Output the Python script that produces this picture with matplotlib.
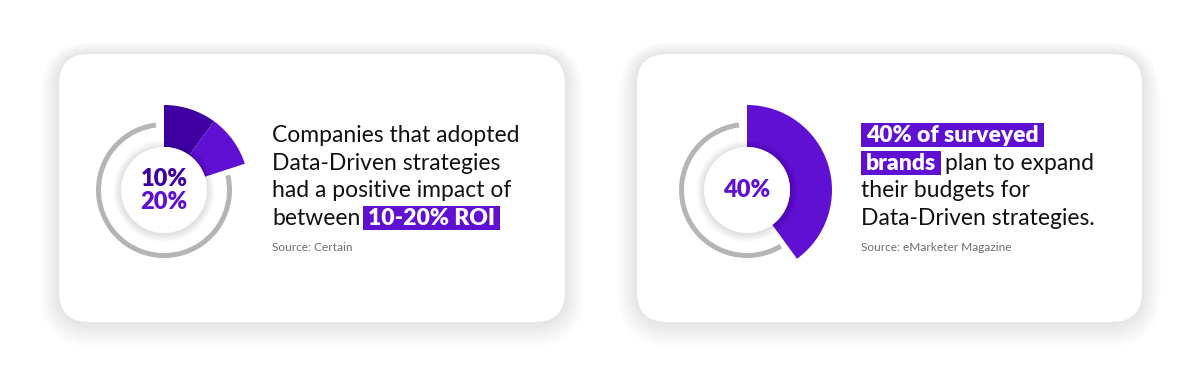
import matplotlib
matplotlib.use("Agg")
import matplotlib.pyplot as plt
from matplotlib.patches import FancyBboxPatch, Wedge, Circle, Rectangle

# chart values (percent)
card1_segments = [10, 10]
card1_labels = ["10%", "20%"]
card2_segments = [40]
card2_labels = ["40%"]

card1_lines = ["Companies that adopted", "Data-Driven strategies", "had a positive impact of"]
card1_last = ("between", "10-20% ROI")
card1_source = "Source: Certain"

card2_hl1 = "40% of surveyed"
card2_hl2 = ("brands", "plan to expand")
card2_lines = ["their budgets for", "Data-Driven strategies."]
card2_source = "Source: eMarketer Magazine"

DARK = "#3e00a3"
PURPLE = "#6010d2"
GRAY_RING = "#b5b5b5"
TEXT = "#111111"
SRC = "#6e6e6e"
FONT = "Lato"
FS = 16.5

W, H = 1200, 375
fig = plt.figure(figsize=(12, 3.75), dpi=100)
ax = fig.add_axes([0, 0, 1, 1])
ax.set_xlim(0, W)
ax.set_ylim(0, H)
ax.axis("off")
fig.patch.set_facecolor("white")


def py(y):
    # pixel row (top=0) -> axis y
    return H - y


def card(x0, x1, y0, y1):
    # soft shadow
    for i in range(26, 0, -1):
        s = FancyBboxPatch((x0 - i * 0.75, py(y1) - i * 1.0), (x1 - x0) + i * 1.5, (y1 - y0) + i * 1.5,
                           boxstyle="round,pad=0,rounding_size=%f" % (30 + i),
                           facecolor="#000000", edgecolor="none", alpha=0.0045, zorder=1)
        ax.add_patch(s)
    c = FancyBboxPatch((x0, py(y1)), x1 - x0, y1 - y0,
                       boxstyle="round,pad=0,rounding_size=30",
                       facecolor="white", edgecolor="none", zorder=2)
    ax.add_patch(c)


def donut(cx, cy, segments, colors, labels, label_colors):
    c = (cx, py(cy))
    end = sum(segments) * 3.6
    # gray track, clockwise from wedge end +5deg to -7deg
    ax.add_patch(Wedge(c, 68, 90 + 7, 90 - end - 5 + 360, width=5,
                       facecolor=GRAY_RING, edgecolor="none", zorder=3))
    start = 0
    for v, col in zip(segments, colors):
        a1, a2 = start, start + v * 3.6
        ax.add_patch(Wedge(c, 85, 90 - a2, 90 - a1, width=42,
                           facecolor=col, edgecolor="none", zorder=4))
        start = a2
    # inner circle with soft shadow
    for i in range(10, 0, -1):
        ax.add_patch(Circle((cx, py(cy) - 1), 43 + i * 0.8, facecolor="#000000",
                            edgecolor="none", alpha=0.012, zorder=5))
    ax.add_patch(Circle(c, 43, facecolor="white", edgecolor="none", zorder=6))
    n = len(labels)
    offs = [0] if n == 1 else [-11, 12]
    for lab, col, o in zip(labels, label_colors, offs):
        ax.text(cx, py(cy + o), lab, ha="center", va="center", fontsize=17,
                fontweight="heavy", color=col, family=FONT, zorder=7)


renderer = fig.canvas.get_renderer()


def width_of(t):
    return t.get_window_extent(renderer=renderer).width


def highlight(x, base, s):
    t = ax.text(x + 5, py(base), s, ha="left", va="baseline", fontsize=FS, fontweight="heavy",
                color="white", family=FONT, zorder=9)
    w = width_of(t)
    ax.add_patch(Rectangle((x, py(base) - 5), w + 10, 24, facecolor=PURPLE,
                           edgecolor="none", zorder=8))
    return x + w + 10


card(59, 565, 54, 322)
card(637, 1142, 54, 322)

donut(164, 190, card1_segments, [DARK, PURPLE], card1_labels, [DARK, PURPLE])
donut(747, 190, card2_segments, [PURPLE], card2_labels, [PURPLE])

# card 1 text
bases = [142, 170, 197, 225]
x1 = 272
for s, b in zip(card1_lines, bases):
    ax.text(x1, py(b), s, ha="left", va="baseline", fontsize=FS, color=TEXT, family=FONT, zorder=9)
t = ax.text(x1, py(bases[3]), card1_last[0], ha="left", va="baseline", fontsize=FS,
            color=TEXT, family=FONT, zorder=9)
highlight(x1 + width_of(t) + 3, bases[3], card1_last[1])
ax.text(x1, py(251), card1_source, ha="left", va="baseline", fontsize=8.6, color=SRC,
        family=FONT, zorder=9)

# card 2 text
x2 = 861
highlight(x2, bases[0], card2_hl1)
xe = highlight(x2, bases[1], card2_hl2[0])
ax.text(xe + 4, py(bases[1]), card2_hl2[1], ha="left", va="baseline", fontsize=FS,
        color=TEXT, family=FONT, zorder=9)
for s, b in zip(card2_lines, bases[2:]):
    ax.text(x2, py(b), s, ha="left", va="baseline", fontsize=FS, color=TEXT, family=FONT, zorder=9)
ax.text(x2, py(251), card2_source, ha="left", va="baseline", fontsize=8.6, color=SRC,
        family=FONT, zorder=9)

fig.savefig("out.png", dpi=100, facecolor="white")
